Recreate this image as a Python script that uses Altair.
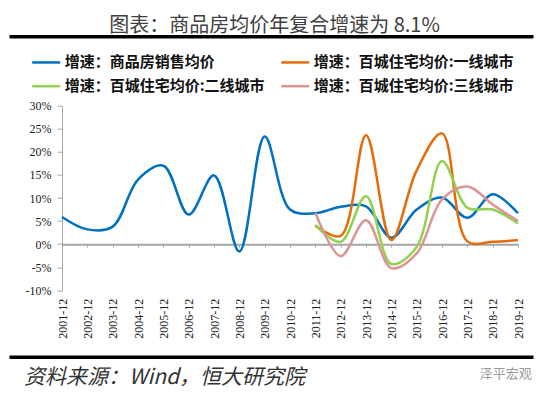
import altair as alt
import pandas as pd

years = list(range(2001, 2020))
blue_vals = [5.9, 3.2, 3.8, 14.0, 17.0, 6.4, 14.9, -1.6, 23.3, 7.5, 6.7, 8.1, 8.2, 1.4, 7.5, 10.1, 5.7, 10.8, 6.7]
years_b = list(range(2011, 2020))
orange_vals = [4.0, 1.8, 23.6, 0.9, 16.0, 24.0, 0.6, 0.5, 0.9]
green_vals = [4.1, 0.5, 10.4, -4.3, -0.6, 18.0, 7.9, 7.5, 4.5]
pink_vals = [6.8, -2.6, 5.2, -5.2, -2.0, 9.7, 12.5, 8.6, 5.0]

series_names = ["增速：商品房销售均价", "增速：百城住宅均价:一线城市",
                "增速：百城住宅均价:二线城市", "增速：百城住宅均价:三线城市"]
series_colors = ["#0070C0", "#E46C0A", "#92D050", "#D99694"]

title_text = "图表：商品房均价年复合增速为 8.1%"
source_text = "资料来源：Wind，恒大研究院"
mark_text = "泽平宏观"
y_ticks = [-10, -5, 0, 5, 10, 15, 20, 25, 30]

rows = []
for y, v in zip(years, blue_vals):
    rows.append({"year": y, "value": v, "series": series_names[0]})
for name, vals in zip(series_names[1:], [orange_vals, green_vals, pink_vals]):
    for y, v in zip(years_b, vals):
        rows.append({"year": y, "value": v, "series": name})
df = pd.DataFrame(rows)

W, H = 456, 184.6
zero_off = -(H * 10 / 40)
serif = "Liberation Serif, Times New Roman, serif"

lines = alt.Chart(df).mark_line(interpolate="catmull-rom", strokeWidth=2.5).encode(
    x=alt.X("year:Q",
            scale=alt.Scale(domain=[2001, 2019], nice=False, zero=False),
            axis=alt.Axis(title=None, values=years, labelExpr="datum.value + '-12'",
                          labelAngle=-90, labelFont=serif, labelFontSize=12,
                          labelColor="#222222", offset=zero_off, labelPadding=-zero_off + 5,
                          tickSize=3, tickColor="#A6A6A6", domainColor="#A6A6A6",
                          domainWidth=2, grid=False, labelOverlap=False)),
    y=alt.Y("value:Q",
            scale=alt.Scale(domain=[-10, 30], nice=False, zero=False),
            axis=alt.Axis(title=None, values=y_ticks, labelExpr="datum.value + '%'",
                          labelFont=serif, labelFontSize=12, labelColor="#222222",
                          tickSize=5, tickColor="#A6A6A6", domainColor="#A6A6A6",
                          labelPadding=6, grid=False)),
    color=alt.Color("series:N",
                    scale=alt.Scale(domain=series_names, range=series_colors),
                    legend=alt.Legend(title=None, orient="none", legendX=-31.3, legendY=-59,
                                      direction="horizontal",
                                      columns=2, symbolType="stroke", symbolSize=784,
                                      symbolStrokeWidth=2.5, labelFont="Noto Sans CJK SC",
                                      labelFontWeight="bold", labelFontSize=15,
                                      labelColor="#111111", labelOffset=3, labelLimit=400,
                                      columnPadding=11, rowPadding=-8)),
    order=alt.Order("series:N", sort="ascending"),
)

title = alt.Chart(pd.DataFrame({"t": [title_text]})).mark_text(
    font="Noto Sans CJK SC", fontSize=20, color="#404040", align="center", baseline="middle"
).encode(x=alt.value(212.5), y=alt.value(-79.5), text="t:N")

top_rule = alt.Chart(pd.DataFrame({"a": [0]})).mark_rule(color="#000000", strokeWidth=3.5).encode(
    x=alt.value(-52.5), x2=alt.value(471.5), y=alt.value(-69))

bottom_rule = alt.Chart(pd.DataFrame({"a": [0]})).mark_rule(color="#000000", strokeWidth=3.5).encode(
    x=alt.value(-52.5), x2=alt.value(471.5), y=alt.value(251.6))

source = alt.Chart(pd.DataFrame({"t": [source_text]})).mark_text(
    font="Noto Sans CJK SC", fontSize=21, fontStyle="italic", color="#333333",
    align="left", baseline="middle"
).encode(x=alt.value(-38), y=alt.value(272), text="t:N")

wm = alt.Chart(pd.DataFrame({"t": [mark_text]})).mark_text(
    font="Noto Sans CJK SC", fontSize=13, color="#9A9A9A", align="right", baseline="middle"
).encode(x=alt.value(469.7), y=alt.value(268), text="t:N")

chart = alt.layer(lines, title, top_rule, bottom_rule, source, wm).properties(
    width=W, height=H,
    autosize=alt.AutoSizeParams(type="none"),
    padding={"left": 54, "top": 97.7, "right": 24, "bottom": 98.7},
).configure_view(stroke=None)

chart.save("out.html", embed_options={"renderer": "svg", "actions": False})
